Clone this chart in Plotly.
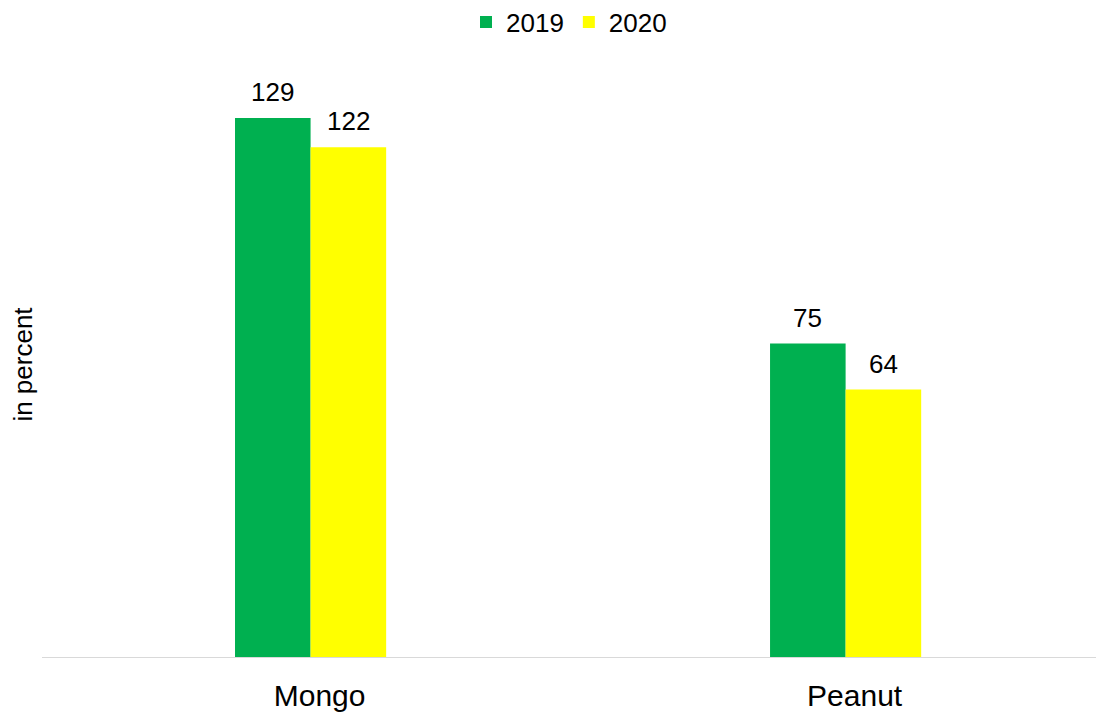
import plotly.graph_objects as go

categories = ["Mongo", "Peanut"]
series_names = ["2019", "2020"]
values_2019 = [129, 75]
values_2020 = [122, 64]
colors = ["#00B050", "#FFFF00"]

W, H = 1107, 717
ML, MR, MT, MB = 34, 19, 64, 68
X_RANGE = [-0.502, 1.468]
BARGAP = 0.7175

px_per_unit = (W - ML - MR) / (X_RANGE[1] - X_RANGE[0])
bar_px = (1 - BARGAP) / 2 * px_per_unit

fig = go.Figure()
all_vals = [values_2019, values_2020]
for i, (name, vals, col) in enumerate(zip(series_names, all_vals, colors)):
    fig.add_trace(go.Bar(
        x=categories, y=vals, name=name, marker_color=col, marker_line_width=0,
    ))
    shift = (i - 0.5) * bar_px
    for c, v in zip(categories, vals):
        fig.add_annotation(x=c, y=v, text=str(v), showarrow=False, xshift=shift,
                           yanchor="bottom", yshift=9,
                           font=dict(size=26, color="#000000"))

fig.update_layout(
    width=W, height=H,
    margin=dict(l=ML, r=MR, t=MT, b=MB),
    paper_bgcolor="white", plot_bgcolor="white",
    font=dict(family="Liberation Sans, Arial, sans-serif", color="#000000"),
    barmode="group", bargap=BARGAP, bargroupgap=0,
    legend=dict(orientation="h", x=0.5, xanchor="center", y=1 - 14 / 717, yanchor="middle",
                yref="container", font=dict(size=26), itemwidth=30,
                traceorder="normal"),
    xaxis=dict(range=X_RANGE, showline=True, linecolor="#d9d9d9", linewidth=1,
               ticks="", tickfont=dict(size=30), showgrid=False,
               ticklabelstandoff=12, ticklabelshift=9),
    yaxis=dict(range=[0, 140], showticklabels=False, showgrid=False, zeroline=False,
               ticks="", title=dict(text="in percent", font=dict(size=26), standoff=0)),
)
fig.write_html("out.html")
